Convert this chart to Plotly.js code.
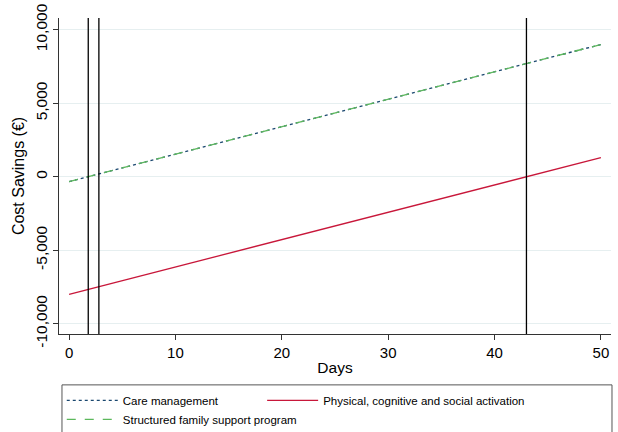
<!DOCTYPE html>
<html>
<head>
<meta charset="utf-8">
<script src="https://cdn.plot.ly/plotly-3.0.1.min.js"></script>
<style>html,body{margin:0;padding:0;background:#fff;}#chart{width:618px;height:432px;}</style>
</head>
<body>
<div id="chart"></div>
<script>
var days = [0, 50];
var careManagement = [-330, 9000];
var physicalActivation = [-8000, 1300];
var familySupport = [-330, 9000];
var breakEvenDays = [1.8, 2.8, 43];
var xTicks = [0, 10, 20, 30, 40, 50];
var yTicks = [-10000, -5000, 0, 5000, 10000];
var yTickLabels = ['-10,000', '-5,000', '0', '5,000', '10,000'];

var traces = [
  {x: days, y: careManagement, mode: 'lines', name: 'Care management', legend: 'legend',
   line: {color: '#1a476f', width: 1.3, dash: 'dot'}},
  {x: days, y: physicalActivation, mode: 'lines', name: 'Physical, cognitive and social activation',
   legend: 'legend2', line: {color: '#c8173a', width: 1.3}},
  {x: days, y: familySupport, mode: 'lines', name: 'Structured family support program', legend: 'legend',
   line: {color: '#5cb85c', width: 1.3, dash: 'dash'}}
];

var shapes = breakEvenDays.map(function(d){
  return {type: 'line', xref: 'x', yref: 'paper', x0: d, x1: d, y0: 0, y1: 1,
          line: {color: '#000', width: 1.3}};
});
// legend frame
shapes.push({type: 'rect', xref: 'paper', yref: 'paper',
             x0: 0.0054, x1: 1.0018, y0: -0.161, y1: -0.34,
             line: {color: '#555', width: 1}, fillcolor: 'rgba(0,0,0,0)'});

var legendCommon = {orientation: 'v', xanchor: 'left', yref: 'container', y: 0.107, yanchor: 'top',
                    borderwidth: 0, bgcolor: 'rgba(0,0,0,0)', itemwidth: 51, tracegroupgap: 0,
                    font: {size: 11.5}};

var layout = {
  width: 618, height: 432,
  margin: {l: 59, r: 7, t: 18, b: 98},
  paper_bgcolor: '#fff', plot_bgcolor: '#fff',
  font: {family: 'Liberation Sans, Arial, sans-serif', color: '#000', size: 12},
  showlegend: true,
  xaxis: {range: [-0.95, 50.95], tickvals: xTicks, showgrid: false, zeroline: false,
          showline: true, linecolor: '#333', linewidth: 1, ticks: 'outside', ticklen: 5,
          tickcolor: '#333', tickfont: {size: 15},
          title: {text: 'Days', font: {size: 15.5}, standoff: 2}},
  yaxis: {range: [-10700, 10800], tickvals: yTicks, ticktext: yTickLabels, tickangle: -90,
          showgrid: true, gridcolor: '#e6eff0', gridwidth: 1, zeroline: false,
          showline: true, linecolor: '#333', linewidth: 1, ticks: 'outside', ticklen: 5,
          tickcolor: '#333', tickfont: {size: 15.5},
          title: {text: 'Cost Savings (€)', font: {size: 16}, standoff: 4}},
  legend: Object.assign({}, legendCommon, {x: 0.005}),
  legend2: Object.assign({}, legendCommon, {x: 0.368}),
  shapes: shapes
};

Plotly.newPlot('chart', traces, layout, {displayModeBar: false, staticPlot: true});
</script>
</body>
</html>
